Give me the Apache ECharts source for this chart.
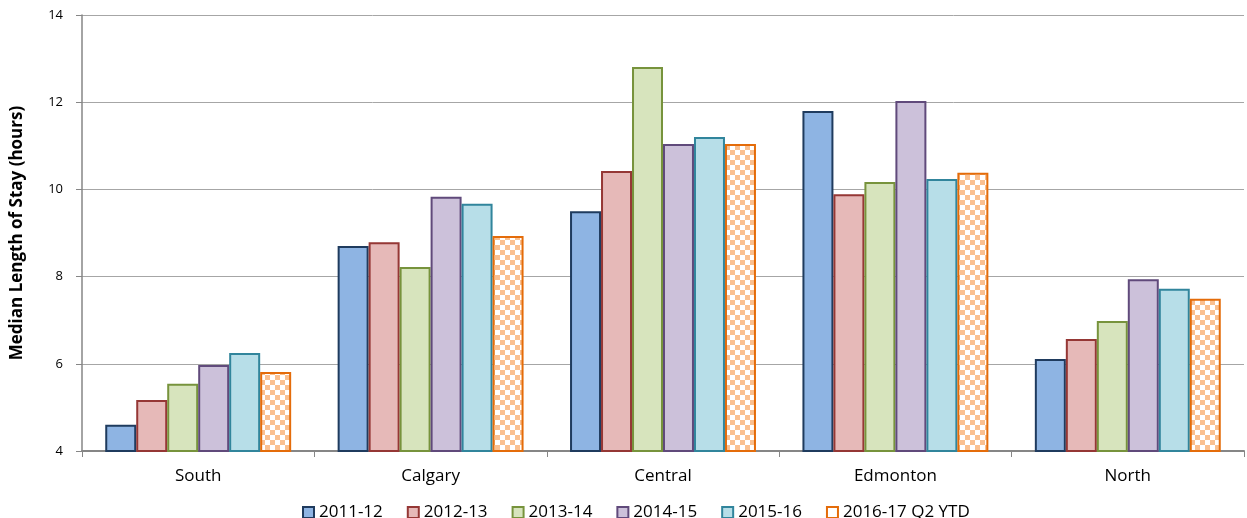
<!DOCTYPE html>
<html lang="en">
<head>
    <meta charset="UTF-8">
    <title>Median Length of Stay</title>
    <script type="text/javascript" src="https://cdn.jsdelivr.net/npm/echarts@6/dist/echarts.min.js"></script>
    <style>
        body { margin: 0; background: #fff; overflow: hidden; }
    </style>
</head>
<body>
<div style="width: 1247px; height: 518px" id="container"></div>
<script>
    var categories = ['South', 'Calgary', 'Central', 'Edmonton', 'North'];
    var seriesNames = ['2011-12', '2012-13', '2013-14', '2014-15', '2015-16', '2016-17 Q2 YTD'];
    var v2011 = [4.60, 8.70, 9.50, 11.80, 6.11];
    var v2012 = [5.17, 8.79, 10.42, 9.89, 6.57];
    var v2013 = [5.54, 8.22, 12.81, 10.17, 6.98];
    var v2014 = [5.97, 9.83, 11.04, 12.03, 7.94];
    var v2015 = [6.25, 9.67, 11.20, 10.24, 7.72];
    var v2016 = [5.81, 8.93, 11.04, 10.38, 7.49];
    var allValues = [v2011, v2012, v2013, v2014, v2015, v2016];

    var fills = ['#8EB4E3', '#E6B9B8', '#D7E4BD', '#CCC1DA', '#B7DEE8', null];
    var borders = ['#1F3B5E', '#953735', '#77933C', '#604A7B', '#31859C', '#E46C0A'];

    // checkered fill for the YTD bar
    var pat = document.createElement('canvas');
    pat.width = 10; pat.height = 10;
    var ctx = pat.getContext('2d');
    ctx.fillStyle = '#ffffff';
    ctx.fillRect(0, 0, 10, 10);
    ctx.fillStyle = '#FAC090';
    ctx.fillRect(0, 0, 5, 5);
    ctx.fillRect(5, 5, 5, 5);
    var checker = { image: pat, repeat: 'repeat' };

    var font = '"Open Sans", "Liberation Sans", sans-serif';

    var myChart = echarts.init(document.getElementById('container'));

    var series = seriesNames.map(function (name, i) {
        return {
            name: name,
            type: 'bar',
            data: allValues[i],
            barGap: '0%',
            barCategoryGap: '20%',
            itemStyle: {
                color: fills[i] || checker,
                borderColor: borders[i],
                borderWidth: 2
            },
            emphasis: { disabled: true }
        };
    });

    var option = {
        animation: false,
        textStyle: { fontFamily: font },
        grid: { left: 82, right: 3, top: 15, bottom: 67 },
        legend: {
            top: 499,
            left: 297,
            itemWidth: 11,
            itemHeight: 11,
            itemGap: 24,
            icon: 'rect',
            textStyle: { fontSize: 17, color: '#000', fontFamily: font },
            data: seriesNames.map(function (name, i) {
                return i === 5 ? { name: name, itemStyle: { color: '#fff' } } : name;
            })
        },
        xAxis: {
            type: 'category',
            data: categories,
            axisLine: { lineStyle: { color: '#868686', width: 2 } },
            axisTick: { show: true, length: 6, lineStyle: { color: '#868686' } },
            axisLabel: { color: '#000', fontSize: 17, margin: 17 }
        },
        yAxis: {
            type: 'value',
            min: 4,
            max: 14,
            interval: 2,
            name: 'Median Length of Stay (hours)',
            nameLocation: 'middle',
            nameGap: 56,
            nameTextStyle: { fontWeight: 'bold', fontSize: 17, color: '#000' },
            axisLine: { show: true, lineStyle: { color: '#868686', width: 1.5 } },
            axisTick: { show: true, length: 6, lineStyle: { color: '#868686' } },
            axisLabel: { color: '#000', fontSize: 13, margin: 19 },
            splitLine: { lineStyle: { color: '#A6A6A6', width: 1 } }
        },
        series: series
    };
    myChart.setOption(option);
</script>
</body>
</html>
